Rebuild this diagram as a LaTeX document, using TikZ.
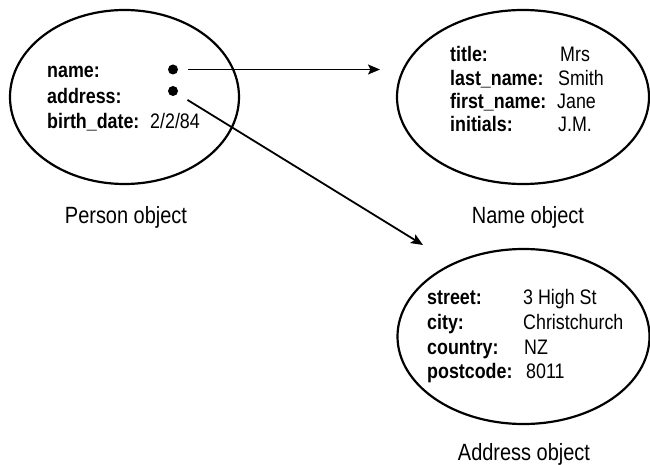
\documentclass[tikz,border=0pt]{standalone}
\usepackage{fontspec}
\setmainfont{Liberation Sans}[FakeStretch=0.85]
\usetikzlibrary{shapes.geometric,arrows.meta}
\begin{document}
\begin{tikzpicture}[x=1pt,y=-1pt,
  obj/.style={draw,ellipse,line width=2.2pt,inner sep=0pt},
  key/.style={anchor=base west,inner sep=0pt,font=\fontsize{21}{25}\selectfont\bfseries},
  val/.style={anchor=base west,inner sep=0pt,font=\fontsize{21}{25}\selectfont},
  lbl/.style={anchor=base,inner sep=0pt,font=\fontsize{23.5}{28}\selectfont},
  refdot/.style={circle,fill=black,inner sep=0pt,minimum size=10pt},
  conn/.style={line width=1.8pt,-{Stealth[length=12pt,width=10pt,inset=2.5pt]}}]
\useasboundingbox (0,0) rectangle (650,465);
% ellipses
\node[obj,minimum width=229pt,minimum height=174pt] (person) at (124.5,97) {};
\node[obj,minimum width=252pt,minimum height=174pt] (name) at (523,97) {};
\node[obj,minimum width=252pt,minimum height=175pt] (address) at (523.5,336.5) {};
% person text
\node[key] (pk1) at (47,78) {name:};
\node[key] (pk2) at (47,103.5) {address:};
\node[key] (pk3) at (47,129) {birth\_date:};
\node[val] (pv3) at (150,129) {2/2/84};
\node[refdot] (d1) at (173,69.5) {};
\node[refdot] (d2) at (173,91) {};
% name text
\node[key] (nk1) at (450,62) {title:};
\node[key] (nk2) at (450,85.3) {last\_name:};
\node[key] (nk3) at (450,108.6) {first\_name:};
\node[key] (nk4) at (450,132) {initials:};
\node[val] (nv1) at (560,62) {Mrs};
\node[val] (nv2) at (558,85.3) {Smith};
\node[val] (nv3) at (557,108.6) {Jane};
\node[val] (nv4) at (558,132) {J.M.};
% address text
\node[key] (ak1) at (427,304) {street:};
\node[key] (ak2) at (427,329) {city:};
\node[key] (ak3) at (427,354) {country:};
\node[key] (ak4) at (427,378) {postcode:};
\node[val] (av1) at (523,304) {3 High St};
\node[val] (av2) at (523,329) {Christchurch};
\node[val] (av3) at (524,354) {NZ};
\node[val] (av4) at (526,378) {8011};
% labels
\node[lbl] (pl) at (126,223) {Person object};
\node[lbl] (nl) at (528,223) {Name object};
\node[lbl] (al) at (524,460) {Address object};
% connectors
\coordinate (t1) at (380,69.5);
\coordinate (t2) at (423,245);
\draw[conn,shorten <=15pt] (d1.center) -- (t1);
\draw[conn,shorten <=17pt] (d2.center) -- (t2);
\end{tikzpicture}
\end{document}
